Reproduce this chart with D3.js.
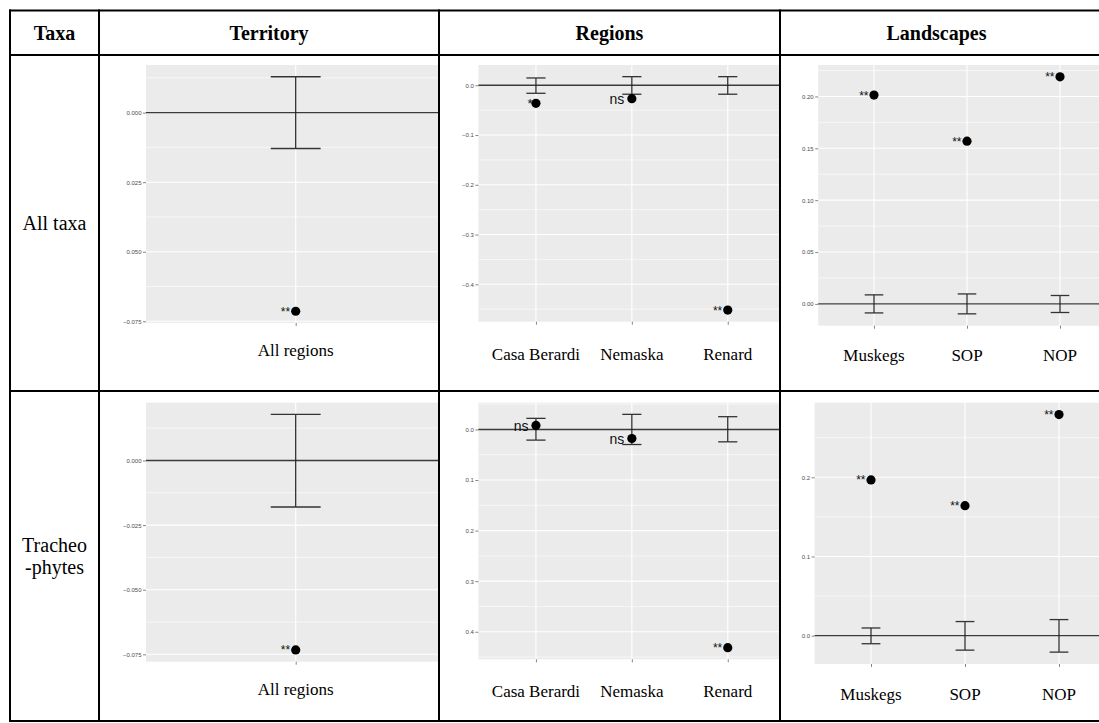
<!DOCTYPE html>
<html><head><meta charset="utf-8">
<script src="https://cdn.jsdelivr.net/npm/d3@7"></script>
<style>body{margin:0;background:#fff;} svg{display:block;}</style>
</head><body><svg id="chart" width="1099" height="723"></svg>
<script>
// ---------- DATA ----------
const headers = ["Taxa", "Territory", "Regions", "Landscapes"];
const taxaLabels = [["All taxa"], ["Tracheo", "-phytes"]];
const territoryCats = ["All regions"];
const regionCats = ["Casa Berardi", "Nemaska", "Renard"];
const landscapeCats = ["Muskegs", "SOP", "NOP"];

// All taxa
const terrAllEst = [-0.0714];
const terrAllLo = [-0.0129];
const terrAllHi = [0.0129];
const terrAllSig = ["**"];
const terrAllTicks = [0, -0.025, -0.05, -0.075];
const terrAllTickLabels = ["0.000", "0.025", "0.050", "\u22120.075"];

const regAllEst = [-0.0362, -0.0269, -0.4517];
const regAllLo = [-0.0161, -0.0180, -0.0180];
const regAllHi = [0.0147, 0.0173, 0.0173];
const regAllSig = ["*", "ns", "**"];
const regAllTicks = [0, -0.1, -0.2, -0.3, -0.4];
const regAllTickLabels = ["0.0", "\u22120.1", "\u22120.2", "\u22120.3", "\u22120.4"];

const landAllEst = [0.2013, 0.1569, 0.2189];
const landAllLo = [-0.0087, -0.0096, -0.0083];
const landAllHi = [0.0087, 0.0096, 0.0081];
const landAllSig = ["**", "**", "**"];
const landAllTicks = [0, 0.05, 0.10, 0.15, 0.20];
const landAllTickLabels = ["0.00", "0.05", "0.10", "0.15", "0.20"];

// Tracheophytes
const terrTraEst = [-0.0733];
const terrTraLo = [-0.0180];
const terrTraHi = [0.0178];
const terrTraSig = ["**"];
const terrTraTicks = [0, -0.025, -0.05, -0.075];
const terrTraTickLabels = ["0.000", "\u22120.025", "\u22120.050", "\u22120.075"];

const regTraEst = [0.0080, -0.0179, -0.4314];
const regTraLo = [-0.0211, -0.0298, -0.0245];
const regTraHi = [0.0219, 0.0298, 0.0252];
const regTraSig = ["ns", "ns", "**"];
const regTraTicks = [0, -0.1, -0.2, -0.3, -0.4];
const regTraTickLabels = ["0.0", "0.1", "0.2", "0.3", "0.4"];

const landTraEst = [0.1967, 0.1641, 0.2792];
const landTraLo = [-0.0102, -0.0183, -0.0208];
const landTraHi = [0.0097, 0.0178, 0.0203];
const landTraSig = ["**", "**", "**"];
const landTraTicks = [0, 0.1, 0.2];
const landTraTickLabels = ["0.0", "0.1", "0.2"];

// ---------- LAYOUT ----------
const colX = [10, 99, 439, 780, 1099];
const rowY = [10.5, 55, 391, 721];

const panels = [
  {row:0,col:1,cats:territoryCats,est:terrAllEst,lo:terrAllLo,hi:terrAllHi,sig:terrAllSig,ticks:terrAllTicks,tl:terrAllTickLabels,box:[146,445.4,65,323],labY:356},
  {row:0,col:2,cats:regionCats,est:regAllEst,lo:regAllLo,hi:regAllHi,sig:regAllSig,ticks:regAllTicks,tl:regAllTickLabels,box:[478.4,785.3,65,321.7],labY:359.5},
  {row:0,col:3,cats:landscapeCats,est:landAllEst,lo:landAllLo,hi:landAllHi,sig:landAllSig,ticks:landAllTicks,tl:landAllTickLabels,box:[818.2,1115.8,65,325.7],labY:361},
  {row:1,col:1,cats:territoryCats,est:terrTraEst,lo:terrTraLo,hi:terrTraHi,sig:terrTraSig,ticks:terrTraTicks,tl:terrTraTickLabels,box:[146,445.4,402.7,661.7],labY:694.5},
  {row:1,col:2,cats:regionCats,est:regTraEst,lo:regTraLo,hi:regTraHi,sig:regTraSig,ticks:regTraTicks,tl:regTraTickLabels,box:[478.4,785.3,402.7,659.3],labY:697},
  {row:1,col:3,cats:landscapeCats,est:landTraEst,lo:landTraLo,hi:landTraHi,sig:landTraSig,ticks:landTraTicks,tl:landTraTickLabels,box:[814.6,1115.4,402.7,664],labY:700}
];

const sigStyle = {
  "**": {size: 12, dx: -5.5, dy: 4.5},
  "*":  {size: 13, dx: -3.5, dy: 5},
  "ns": {size: 14, dx: -7.5, dy: 5.5}
};

const svg = d3.select("#chart");
svg.append("rect").attr("width",1099).attr("height",723).attr("fill","#fff");
const defs = svg.append("defs");

panels.forEach((p, i) => {
  const [x0, x1, y0, y1] = p.box;
  const cx0 = colX[p.col], cx1 = colX[p.col+1];
  const cy0 = rowY[p.row+1], cy1 = rowY[p.row+2];
  defs.append("clipPath").attr("id", "clip"+i)
    .append("rect").attr("x", cx0).attr("y", cy0).attr("width", cx1-cx0).attr("height", cy1-cy0);
  const g = svg.append("g").attr("clip-path", `url(#clip${i})`);

  const all = p.est.concat(p.lo, p.hi);
  const mn = d3.min(all), mx = d3.max(all), rg = mx - mn;
  const y = d3.scaleLinear().domain([mn - 0.05*rg, mx + 0.05*rg]).range([y1, y0]);
  const x = d3.scalePoint().domain(p.cats).range([x0, x1]).padding(0.6);
  const dom = y.domain();

  g.append("rect").attr("x", x0).attr("y", y0).attr("width", x1-x0).attr("height", y1-y0).attr("fill", "#EBEBEB");

  // minor grid
  const tk = p.ticks.slice().sort((a,b)=>a-b);
  const st = tk[1]-tk[0];
  const minors = [];
  for (let k = -1; k < tk.length; k++) {
    const v = (k < 0 ? tk[0] - st/2 : tk[k] + st/2);
    if (v >= dom[0] && v <= dom[1]) minors.push(v);
  }
  g.selectAll(".minor").data(minors).enter().append("line")
    .attr("x1", x0).attr("x2", x1).attr("y1", d=>y(d)).attr("y2", d=>y(d))
    .attr("stroke", "#fff").attr("stroke-width", 0.6);
  g.selectAll(".major").data(p.ticks).enter().append("line")
    .attr("x1", x0).attr("x2", x1).attr("y1", d=>y(d)).attr("y2", d=>y(d))
    .attr("stroke", "#fff").attr("stroke-width", 1.1);
  g.selectAll(".vgrid").data(p.cats).enter().append("line")
    .attr("x1", d=>x(d)).attr("x2", d=>x(d)).attr("y1", y0).attr("y2", y1)
    .attr("stroke", "#fff").attr("stroke-width", 1.1);

  // y axis
  const ya = g.append("g").attr("transform", `translate(${x0},0)`)
    .call(d3.axisLeft(y).tickValues(p.ticks).tickSize(3).tickPadding(1.5)
      .tickFormat((d, j) => p.tl[j]));
  ya.select(".domain").remove();
  ya.selectAll("line").attr("stroke", "#333").attr("stroke-width", 0.6);
  ya.selectAll("text").attr("font-family", "Liberation Sans, Arial, sans-serif")
    .attr("font-size", 6).attr("fill", "#4D4D4D");

  // x axis ticks
  const xa = g.append("g").attr("transform", `translate(0,${y1})`)
    .call(d3.axisBottom(x).tickSize(3).tickFormat(""));
  xa.select(".domain").remove();
  xa.selectAll("line").attr("stroke", "#333").attr("stroke-width", 0.6);

  // zero line
  g.append("line").attr("x1", x0).attr("x2", x1).attr("y1", y(0)).attr("y2", y(0))
    .attr("stroke", "#3a3a3a").attr("stroke-width", 1.4);

  // error bars
  const cw = 0.1 * x.step();
  p.cats.forEach((c, j) => {
    const xc = x(c);
    g.append("line").attr("x1", xc).attr("x2", xc).attr("y1", y(p.lo[j])).attr("y2", y(p.hi[j]))
      .attr("stroke", "#222").attr("stroke-width", 1.2);
    [p.lo[j], p.hi[j]].forEach(v => {
      g.append("line").attr("x1", xc-cw).attr("x2", xc+cw).attr("y1", y(v)).attr("y2", y(v))
        .attr("stroke", "#333").attr("stroke-width", 1.3);
    });
  });

  // points
  g.selectAll(".pt").data(p.cats).enter().append("circle")
    .attr("cx", d=>x(d)).attr("cy", (d,j)=>y(p.est[j])).attr("r", 4.6).attr("fill", "#000");

  // significance labels
  p.cats.forEach((c, j) => {
    const s = sigStyle[p.sig[j]];
    g.append("text").attr("x", x(c) + s.dx).attr("y", y(p.est[j]) + s.dy)
      .attr("text-anchor", "end").attr("font-family", "Liberation Sans, Arial, sans-serif")
      .attr("font-size", s.size).attr("fill", "#111").text(p.sig[j]);
  });

  // category labels
  svg.selectAll(null).data(p.cats).enter().append("text")
    .attr("x", d=>x(d)).attr("y", p.labY).attr("text-anchor", "middle")
    .attr("font-family", "Liberation Serif, Times New Roman, serif").attr("font-size", 17)
    .attr("fill", "#000").text(d=>d);
});

// headers
headers.forEach((h, i) => {
  svg.append("text").attr("x", (colX[i] + Math.min(colX[i+1], 1093))/2).attr("y", 40)
    .attr("text-anchor", "middle").attr("font-family", "Liberation Serif, Times New Roman, serif")
    .attr("font-weight", "bold").attr("font-size", 20).attr("fill", "#000").text(h);
});

// row labels
taxaLabels.forEach((lines, r) => {
  const mid = (rowY[r+1] + rowY[r+2]) / 2;
  const lh = 22;
  lines.forEach((t, k) => {
    svg.append("text").attr("x", (colX[0]+colX[1])/2)
      .attr("y", mid + 7 + (k - (lines.length-1)/2) * lh)
      .attr("text-anchor", "middle").attr("font-family", "Liberation Serif, Times New Roman, serif")
      .attr("font-size", 20).attr("fill", "#000").text(t);
  });
});

// table borders
const bg = svg.append("g").attr("stroke", "#000").attr("stroke-width", 2);
rowY.forEach(yy => bg.append("line").attr("x1", colX[0]-1).attr("x2", 1099).attr("y1", yy).attr("y2", yy));
colX.slice(0, 4).forEach(xx => bg.append("line").attr("x1", xx).attr("x2", xx).attr("y1", rowY[0]-1).attr("y2", rowY[3]+1));
</script></body></html>
